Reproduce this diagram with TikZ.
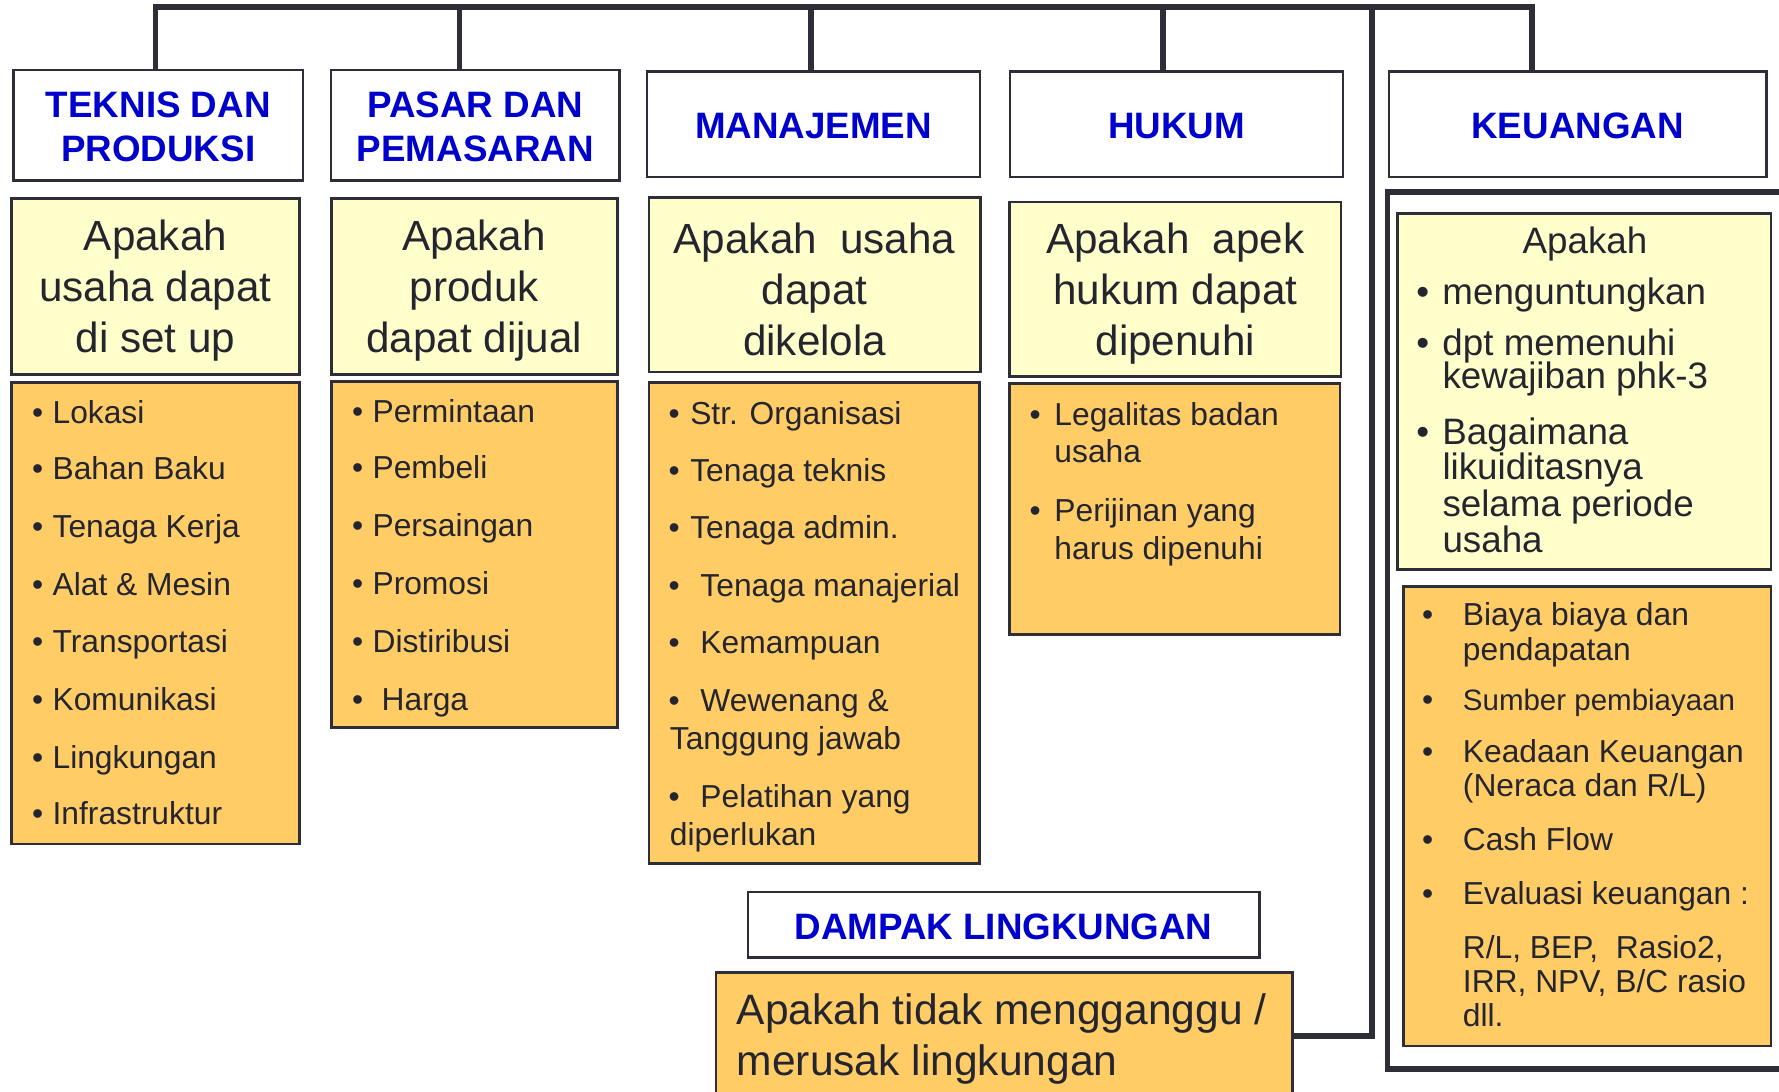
\documentclass[tikz,border=0pt]{standalone}
\usepackage{fontspec}
\setmainfont{Liberation Sans}
\usetikzlibrary{fit}
\definecolor{hblue}{HTML}{0000CC}
\definecolor{qyellow}{HTML}{FFFFCC}
\definecolor{lorange}{HTML}{FFCC66}
\definecolor{ink}{HTML}{25252F}
\definecolor{edgec}{HTML}{2E2E38}
\begin{document}
\begin{tikzpicture}[x=0.5pt,y=-0.5pt,
  hdr/.style={draw=edgec, line width=1pt, fill=white, inner sep=0pt},
  htxt/.style={inner sep=0pt, align=center, text=hblue, font=\bfseries\fontsize{16.2}{19.5}\selectfont},
  qbox/.style={draw=edgec, line width=1.2pt, fill=qyellow, inner sep=0pt},
  qtxt/.style={inner sep=0pt, align=center, text=ink, font=\fontsize{18.6}{22.5}\selectfont, yshift=-2pt},
  lbox/.style={draw=edgec, line width=1.2pt, fill=lorange, inner sep=0pt},
  itm/.style={anchor=base west, inner sep=0pt, text=ink, font=\fontsize{14}{16}\selectfont},
  kitm/.style={anchor=base west, inner sep=0pt, text=ink, font=\fontsize{16.2}{18}\selectfont},
  bigitm/.style={anchor=base west, inner sep=0pt, text=ink, font=\fontsize{18.75}{22.5}\selectfont},
  bus/.style={draw=edgec, line width=2.5pt, line join=miter},
  frame/.style={draw=edgec, line width=2.5pt, inner sep=0pt}
]
\useasboundingbox (0,0) rectangle (1568,962);

% header boxes
\node[hdr, fit={(12,62) (267,159)}] (h1) {};
\node[hdr, fit={(292,62) (546,159)}] (h2) {};
\node[hdr, fit={(570,63) (864,156)}] (h3) {};
\node[hdr, fit={(890,63) (1184,156)}] (h4) {};
\node[hdr, fit={(1224,63) (1557,156)}] (h5) {};
\node[htxt] (h1t) at ([yshift=-0.5pt]h1.center) {TEKNIS DAN\\PRODUKSI};
\node[htxt] (h2t) at ([yshift=-0.5pt]h2.center) {PASAR DAN\\PEMASARAN};
\node[htxt] (h3t) at ([yshift=-0.8pt]h3.center) {MANAJEMEN};
\node[htxt] (h4t) at ([yshift=-0.8pt]h4.center) {HUKUM};
\node[htxt] (h5t) at ([yshift=-0.8pt]h5.center) {KEUANGAN};

% question boxes
\node[qbox, fit={(10,175) (264,330)}] (q1) {};
\node[qbox, fit={(292,175) (544,330)}] (q2) {};
\node[qbox, fit={(572,174) (864,328)}] (q3) {};
\node[qbox, fit={(890,178) (1182,332)}] (q4) {};
\node[qtxt] (q1t) at (q1.center) {Apakah\\usaha dapat\\di set up};
\node[qtxt] (q2t) at (q2.center) {Apakah\\produk\\dapat dijual};
\node[qtxt] (q3t) at (q3.center) {Apakah\ \ usaha\\dapat\\dikelola};
\node[qtxt] (q4t) at (q4.center) {Apakah\ \ apek\\hukum dapat\\dipenuhi};

% keuangan frame
\node[frame, fit={(1223,169) (1590,942)}] (kf) {};
\node[qbox, fit={(1232,188) (1561,502)}] (q5) {};
\node[lbox, fit={(1237,517) (1561,922)}] (l5) {};

% list boxes
\node[lbox, fit={(10,337) (264,744)}] (l1) {};
\node[lbox, fit={(292,336) (544,641)}] (l2) {};
\node[lbox, fit={(572,337) (863,761)}] (l3) {};
\node[lbox, fit={(890,338) (1181,559)}] (l4) {};

% dampak
\node[hdr, fit={(659,786) (1110,844)}] (d1) {};
\node[htxt] (d1t) at ([yshift=-0.8pt]d1.center) {DAMPAK LINGKUNGAN};
\node[lbox, fit={(631,857) (1139,980)}] (d2) {};

% connectors
\coordinate (b1) at (137,6);
\coordinate (b2) at (405,6);
\coordinate (b3) at (715,6);
\coordinate (b4) at (1025,6);
\coordinate (b5) at (1350,6);
\coordinate (bv) at (1209,6);
\coordinate (bl) at (1209,913);
\draw[bus] (b1 |- h1.north) -- (b1) -- (b5) -- (b5 |- h5.north);
\foreach \k in {2,3,4} \draw[bus] (b\k) -- (b\k |- h\k.north);
\draw[bus] (bv) -- (bl) -- (bl -| d2.east);

% teknis list
\foreach \yy/\txt [count=\i] in {373/Lokasi,423/Bahan Baku,474/Tenaga Kerja,525/Alat \& Mesin,575/Transportasi,626/Komunikasi,677/Lingkungan,727/Infrastruktur}
  \node[itm] (a\i) at (28,\yy) {\makebox[9pt][l]{•}\txt};

% pasar list
\foreach \yy/\txt [count=\i] in {372/Permintaan,422/Pembeli,473/Persaingan,524/Promosi,575/Distiribusi}
  \node[itm] (p\i) at (310,\yy) {\makebox[9pt][l]{•}\txt};
\node[itm] (p6) at (310,626) {\makebox[13pt][l]{•}Harga};

% manajemen list
\node[itm] (m1) at (589,374) {\makebox[9.5pt][l]{•}Str. Organisasi};
\node[itm] (m2) at (589,424) {\makebox[9.5pt][l]{•}Tenaga teknis};
\node[itm] (m3) at (589,475) {\makebox[9.5pt][l]{•}Tenaga admin.};
\node[itm] (m4) at (589,526) {\makebox[14pt][l]{•}Tenaga manajerial};
\node[itm] (m5) at (589,576) {\makebox[14pt][l]{•}Kemampuan};
\node[itm] (m6) at (589,627) {\makebox[14pt][l]{•}Wewenang \&};
\node[itm] (m7) at (590,661) {Tanggung jawab};
\node[itm] (m8) at (589,712) {\makebox[14pt][l]{•}Pelatihan yang};
\node[itm] (m9) at (590,745) {diperlukan};

% hukum list
\node[itm] (k1) at (907,375) {\makebox[11pt][l]{•}Legalitas badan};
\node[itm] (k2) at (929,408) {usaha};
\node[itm] (k3) at (907,460) {\makebox[11pt][l]{•}Perijinan yang};
\node[itm] (k4) at (929,493) {harus dipenuhi};

% keuangan question
\node[kitm, anchor=base] (u0) at (1397,223) {Apakah};
\node[kitm] (u1) at (1248,268) {\makebox[11.5pt][l]{•}menguntungkan};
\node[kitm] (u2) at (1248,313) {\makebox[11.5pt][l]{•}dpt memenuhi};
\node[kitm] (u3) at (1271,342) {kewajiban phk-3};
\node[kitm] (u4) at (1248,392) {\makebox[11.5pt][l]{•}Bagaimana};
\node[kitm] (u5) at (1271,423) {likuiditasnya};
\node[kitm] (u6) at (1271,455) {selama periode};
\node[kitm] (u7) at (1271,487) {usaha};

% keuangan list
\node[itm] (f1) at (1253,551) {\makebox[18pt][l]{•}Biaya biaya dan};
\node[itm] (f2) at (1289,582) {pendapatan};
\node[itm, font=\fontsize{13}{15}\selectfont] (f3) at (1253,626) {\makebox[18pt][l]{\fontsize{14}{16}\selectfont•}Sumber pembiayaan};
\node[itm] (f4) at (1253,672) {\makebox[18pt][l]{•}Keadaan Keuangan};
\node[itm] (f5) at (1289,702) {(Neraca dan R/L)};
\node[itm] (f6) at (1253,750) {\makebox[18pt][l]{•}Cash Flow};
\node[itm] (f7) at (1253,797) {\makebox[18pt][l]{•}Evaluasi keuangan :};
\node[itm] (f8) at (1289,845) {R/L, BEP,\ \ Rasio2,};
\node[itm] (f9) at (1289,875) {IRR, NPV, B/C rasio};
\node[itm] (f10) at (1289,905) {dll.};

% dampak text
\node[bigitm] (e1) at (649,903) {Apakah tidak mengganggu /};
\node[bigitm] (e2) at (649,948) {merusak lingkungan};
\end{tikzpicture}
\end{document}
